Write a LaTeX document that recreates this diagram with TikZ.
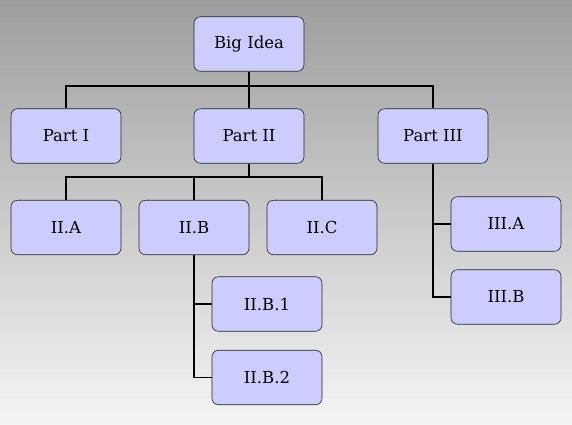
\documentclass[tikz,border=0pt]{standalone}
\usepackage{fontspec}
\setmainfont{DejaVu Serif}
\begin{document}
\begin{tikzpicture}[x=1pt,y=-1pt,
  box/.style={draw=black!85,fill=blue!20,rounded corners=6.5pt,minimum width=110pt,minimum height=54.5pt,inner sep=0pt,font=\fontsize{16.5}{19}\selectfont,line width=0.6pt},
  conn/.style={draw=black,line width=1.2pt}]
\shade[top color=black!38,bottom color=black!4] (0,0) rectangle (572,424);
\useasboundingbox (0,0) rectangle (572,424);
\node[box] (big) at (249,44) {Big Idea};
\node[box] (p1) at (66,136) {Part I};
\node[box] (p2) at (249,136) {Part II};
\node[box] (p3) at (433,136) {Part III};
\node[box] (iia) at (66,227.5) {II.A};
\node[box] (iib) at (194,227.5) {II.B};
\node[box] (iic) at (322,227.5) {II.C};
\node[box] (iiia) at (506,224) {III.A};
\node[box] (iiib) at (506,297) {III.B};
\node[box] (iib1) at (267,304) {II.B.1};
\node[box] (iib2) at (267,377.5) {II.B.2};
\coordinate (j1) at (249,86);
\coordinate (j2) at (249,177);
\draw[conn] (big.south) -- (j1);
\draw[conn] (p1.north) |- (j1) -| (p3.north);
\draw[conn] (j1) -- (p2.north);
\draw[conn] (p2.south) -- (j2);
\draw[conn] (iia.north) |- (j2) -| (iic.north);
\draw[conn] (iib.north) |- (j2);
\draw[conn] (p3.south) |- (iiib.west);
\draw[conn] (p3.south) |- (iiia.west);
\draw[conn] (iib.south) |- (iib2.west);
\draw[conn] (iib.south) |- (iib1.west);
\end{tikzpicture}
\end{document}
